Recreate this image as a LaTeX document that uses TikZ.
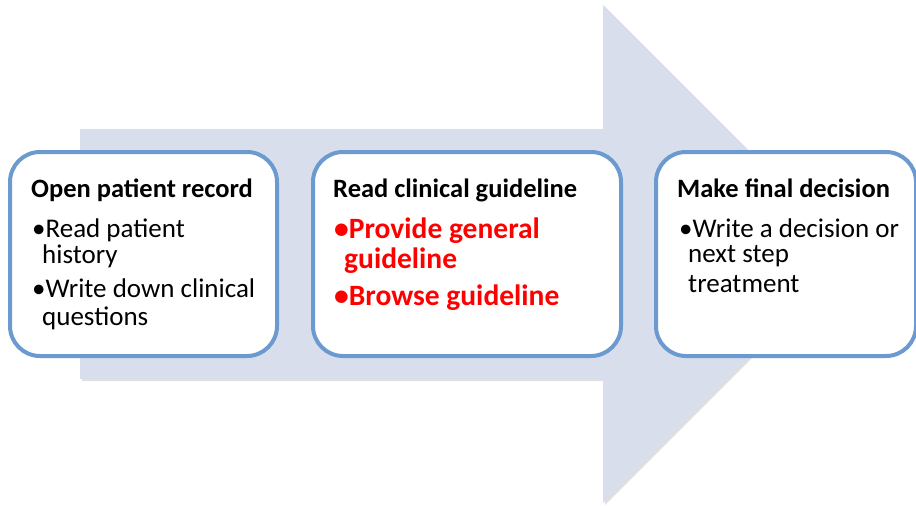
\documentclass[tikz,border=0pt]{standalone}
\usepackage{fontspec}
\setmainfont{Carlito}
\definecolor{arrowfill}{HTML}{D9DEEC}
\definecolor{boxline}{HTML}{6A9ACF}
\definecolor{redtxt}{HTML}{FF0000}
\begin{document}
\begin{tikzpicture}[x=1pt,y=-1pt,
  stepbox/.style={draw=boxline,line width=4pt,fill=white,rounded corners=30pt},
  ttl/.style={anchor=base west,inner sep=0pt,font=\fontsize{26.5}{30}\selectfont\bfseries},
  txt/.style={anchor=base west,inner sep=0pt,font=\fontsize{27}{30}\selectfont},
  rtxt/.style={anchor=base west,inner sep=0pt,text=redtxt,font=\fontsize{29.5}{33}\selectfont\bfseries}]
\useasboundingbox (0,0) rectangle (916,506);
% shadow
\fill[black!40,opacity=0.3] (82,131) -- (605,131) -- (605,7) -- (854,256) -- (605,505) -- (605,381) -- (82,381) -- cycle;
% arrow
\fill[arrowfill] (80,129) -- (603,129) -- (603,5) -- (852,254) -- (603,503) -- (603,379) -- (80,379) -- cycle;
% boxes
\draw[stepbox] (10,152) rectangle (277,356);
\draw[stepbox] (313,152) rectangle (621,356);
\draw[stepbox] (656,152) rectangle (916,356);
% box 1
\node[ttl] (t1) at (31,197) {Open patient record};
\node[txt] (t1a) at (32,237) {\textbullet Read patient};
\node[txt] (t1b) at (42,263) {history};
\node[txt] (t1c) at (32,297) {\textbullet Write down clinical};
\node[txt] (t1d) at (42,325) {questions};
% box 2
\node[ttl] (t2) at (333,197) {Read clinical guideline};
\node[rtxt] (t2a) at (334,238) {\textbullet Provide general};
\node[rtxt] (t2b) at (344,268) {guideline};
\node[rtxt] (t2c) at (334,305) {\textbullet Browse guideline};
% box 3
\node[ttl] (t3) at (677,197) {Make final decision};
\node[txt] (t3a) at (679,237) {\textbullet Write a decision or};
\node[txt] (t3b) at (688,262) {next step};
\node[txt] (t3c) at (688,292) {treatment};
\end{tikzpicture}
\end{document}
